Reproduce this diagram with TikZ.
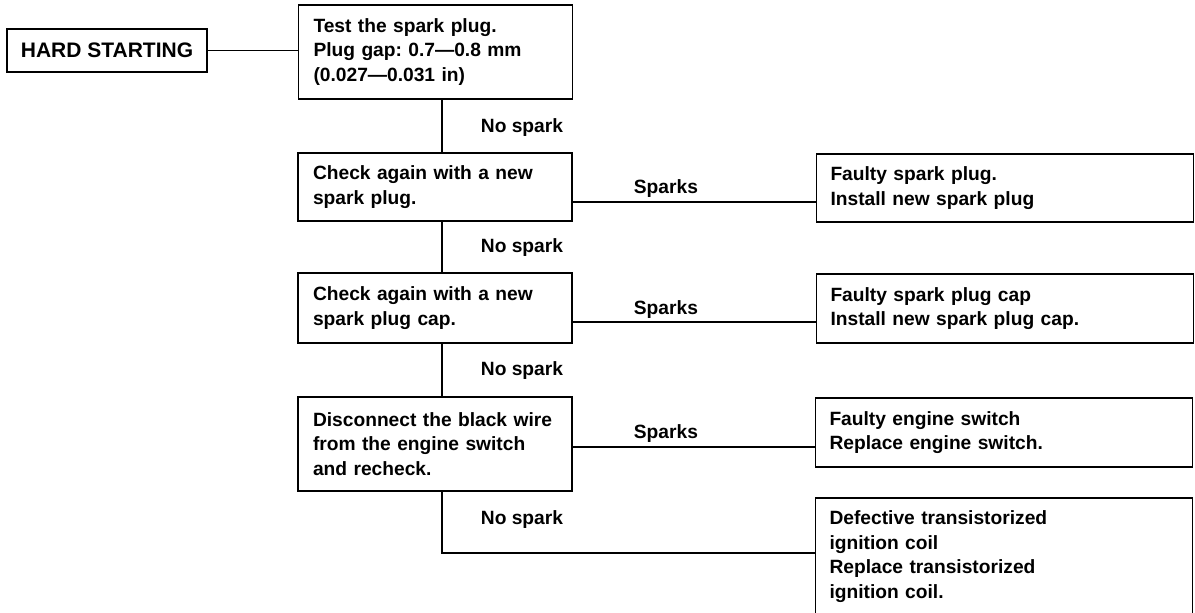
\documentclass[tikz,border=0pt]{standalone}
\usepackage{fontspec}
\setmainfont{Liberation Sans}
\frenchspacing
\begin{document}
\begin{tikzpicture}[x=0.5pt,y=-0.5pt,
  line width=0.9pt,
  txt/.style={font=\fontsize{9.6}{12.4}\selectfont\bfseries},
  lbox/.style={draw, rectangle, txt, align=left, inner xsep=7.5pt, inner ysep=0pt,
     text width=122pt, minimum width=137pt},
  rbox/.style={draw, rectangle, txt, align=left, inner xsep=7pt, inner ysep=0pt,
     text width=174.5pt, minimum width=188.5pt},
  lbl/.style={txt, anchor=base west, inner sep=0pt}
]
\useasboundingbox (0,0) rectangle (1195,613);

\node[draw, rectangle, font=\fontsize{10.5}{12}\selectfont\bfseries,
      minimum width=100pt, minimum height=21.5pt, inner sep=0pt] (hard) at (107,50.5) {HARD STARTING};

\node[lbox, minimum height=47pt] (test) at (435.5,52)
  {Test the spark plug.\\Plug gap: 0.7---0.8 mm\\(0.027---0.031 in)};
\node[lbox, minimum height=34pt] (c2) at (435,187)
  {Check again with a new\\spark plug.};
\node[lbox, minimum height=35pt] (c3) at (435,308)
  {Check again with a new\\spark plug cap.};
\node[lbox, minimum height=47pt] (c4) at (435,444)
  {Disconnect the black wire\\from the engine switch\\and recheck.};

\node[rbox, minimum height=34pt] (r1) at (1005,188)
  {Faulty spark plug.\\Install new spark plug};
\node[rbox, minimum height=34.5pt] (r2) at (1005,308.5)
  {Faulty spark plug cap\\Install new spark plug cap.};
\node[rbox, minimum height=34.5pt] (r3) at (1004,432.5)
  {Faulty engine switch\\Replace engine switch.};
\node[rbox, minimum height=58.5pt] (r4) at (1004,556.5)
  {Defective transistorized\\ignition coil\\Replace transistorized\\ignition coil.};

\coordinate (sp) at (442,0);
\coordinate (h1) at (0,202);
\coordinate (h2) at (0,322);
\coordinate (h3) at (0,447);
\coordinate (h4) at (0,553);

\draw (hard.east) -- (hard.east -| test.west);
\draw (test.south -| sp) -- (c2.north -| sp);
\draw (c2.south -| sp) -- (c3.north -| sp);
\draw (c3.south -| sp) -- (c4.north -| sp);
\draw (c4.south -| sp) -- (sp |- h4) -- (r4.west |- h4);
\draw (c2.east |- h1) -- (r1.west |- h1);
\draw (c3.east |- h2) -- (r2.west |- h2);
\draw (c4.east |- h3) -- (r3.west |- h3);

\node[lbl] (n1) at (480,133) {No spark};
\node[lbl] (n2) at (480,253) {No spark};
\node[lbl] (n3) at (480,376) {No spark};
\node[lbl] (n4) at (480,525) {No spark};
\node[lbl] (s1) at (633,194) {Sparks};
\node[lbl] (s2) at (633,315) {Sparks};
\node[lbl] (s3) at (633,439) {Sparks};
\end{tikzpicture}
\end{document}
